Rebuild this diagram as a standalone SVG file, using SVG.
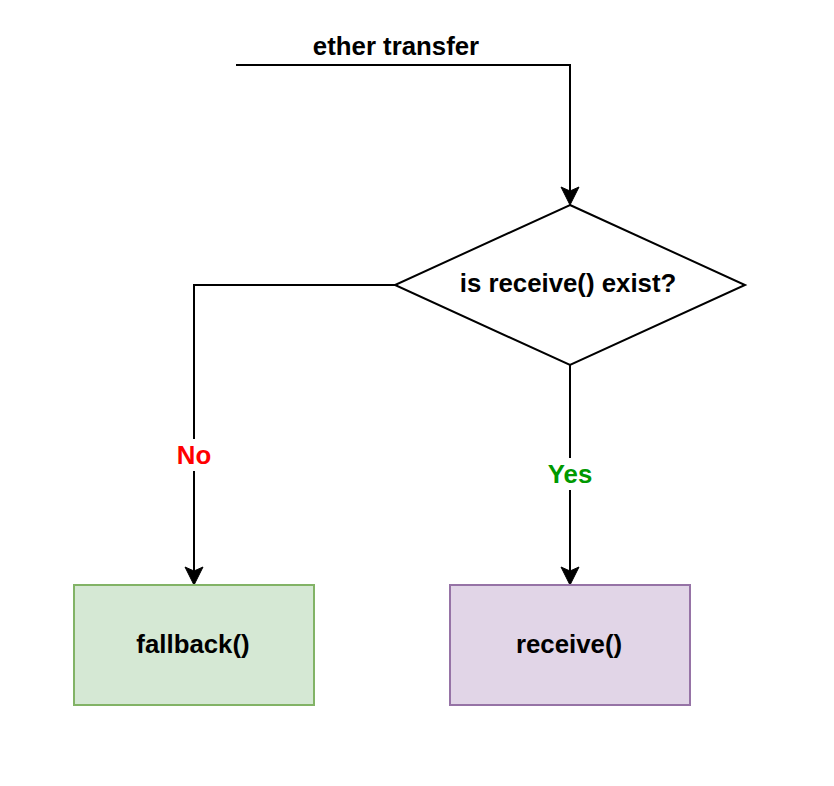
<svg xmlns="http://www.w3.org/2000/svg" width="834" height="786" viewBox="0 0 834 786">
  <style>
    .lbl { font-family: "Liberation Sans", Arial, Helvetica, sans-serif; font-weight: bold; font-size: 25.8px; text-anchor: middle; fill: #000000; }
    .edge { fill: none; stroke: #000000; stroke-width: 2; }
    .elbl-bg { fill: #ffffff; }
  </style>
  <defs>
    <marker id="arrow" markerUnits="userSpaceOnUse" markerWidth="24" markerHeight="24" viewBox="-6 -12 24 24" refX="0" refY="0" orient="auto">
      <path d="M14,0 L-4,-9 L0,0 L-4,9 Z" fill="#000000" stroke="#000000" stroke-width="1"/>
    </marker>
  </defs>
  <rect width="834" height="786" fill="#ffffff"/>

  <g id="connectors">
    <g id="edge-start">
      <path class="edge" d="M236,65 L570,65 L570,191" marker-end="url(#arrow)"/>
      <text class="lbl" x="396" y="55">ether transfer</text>
    </g>
    <g id="edge-no">
      <path class="edge" d="M395,285 L194,285 L194,571" marker-end="url(#arrow)"/>
      <rect class="elbl-bg" x="174" y="439" width="40" height="32"/>
      <text class="lbl" x="194" y="463.5" style="fill:#ff0000">No</text>
    </g>
    <g id="edge-yes">
      <path class="edge" d="M570,365 L570,571" marker-end="url(#arrow)"/>
      <rect class="elbl-bg" x="545" y="458" width="50" height="32"/>
      <text class="lbl" x="570" y="483" style="fill:#009900">Yes</text>
    </g>
  </g>

  <g id="decision">
    <polygon points="570,205 745,285 570,365 395,285" fill="#ffffff" stroke="#000000" stroke-width="2"/>
    <text class="lbl" x="568" y="291.5">is receive() exist?</text>
  </g>

  <g id="fallback">
    <rect x="74" y="585" width="240" height="120" fill="#d5e8d4" stroke="#82b366" stroke-width="2"/>
    <text class="lbl" x="193" y="653">fallback()</text>
  </g>

  <g id="receive">
    <rect x="450" y="585" width="240" height="120" fill="#e1d5e7" stroke="#9673a6" stroke-width="2"/>
    <text class="lbl" x="569" y="653">receive()</text>
  </g>
</svg>
